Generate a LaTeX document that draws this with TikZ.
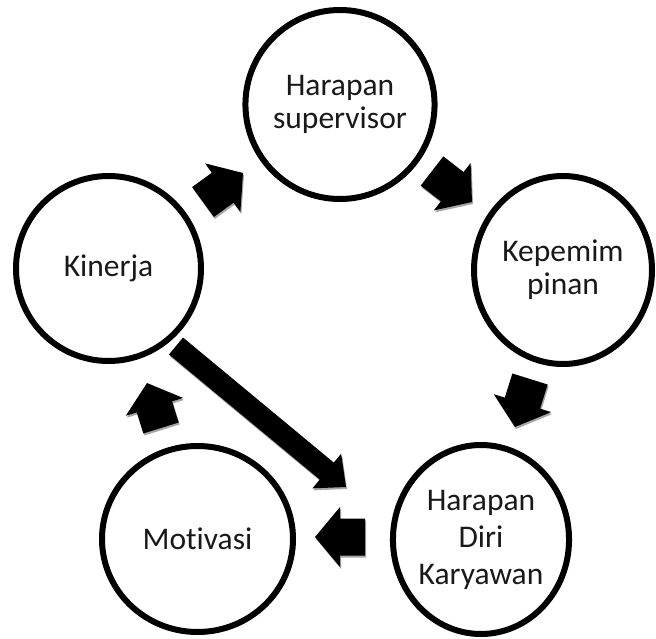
\documentclass[tikz,border=0pt]{standalone}
\usepackage{fontspec}
\setmainfont{Carlito}[Ligatures={NoCommon}]
\usetikzlibrary{calc,shapes.geometric,shadows}
\newcommand{\blockarr}[6]{% #1 from, #2 to, #3 half body, #4 half head, #5 head length, #6 colour
  \coordinate (bhtmp) at ($(#2)!#5!(#1)$);
  \fill[#6] ($(#1)!#3!90:(#2)$) -- ($(bhtmp)!#3!-90:(#1)$) -- ($(bhtmp)!#4!-90:(#1)$) -- (#2)
    -- ($(bhtmp)!#4!90:(#1)$) -- ($(bhtmp)!#3!90:(#1)$) -- ($(#1)!#3!-90:(#2)$) -- cycle;
}
\newcommand{\shadedarr}[5]{%
  \begin{scope}[transform canvas={shift={(1pt,-2pt)}}]
    \blockarr{#1}{#2}{#3}{#4}{#5}{black!35}
  \end{scope}
  \blockarr{#1}{#2}{#3}{#4}{#5}{black}
}
\begin{document}
\begin{tikzpicture}[x=1pt,y=-1pt,
  bubble/.style={ellipse, draw=black, line width=6pt, fill=white, align=center, inner sep=0pt,
    text=black!90, font=\fontsize{31.5}{33}\selectfont,
    drop shadow={shadow xshift=1.5pt, shadow yshift=-2pt, opacity=0.3}}]
\useasboundingbox (0,0) rectangle (656,639);
\fill[white] (0,0) rectangle (656,639);

% arrow end points
\coordinate (a1s) at (203,202); \coordinate (a1e) at (243,173);
\coordinate (a2s) at (432,171); \coordinate (a2e) at (472,202);
\coordinate (a3s) at (530,379); \coordinate (a3e) at (515,427);
\coordinate (a4s) at (365,537); \coordinate (a4e) at (315,537);
\coordinate (a5s) at (161,428); \coordinate (a5e) at (147,383);
\coordinate (a6s) at (176,346); \coordinate (a6e) at (346,487);

\shadedarr{a1s}{a1e}{18.5pt}{30pt}{25pt}
\shadedarr{a2s}{a2e}{18.5pt}{30pt}{25pt}
\shadedarr{a3s}{a3e}{18.5pt}{30pt}{25pt}
\shadedarr{a4s}{a4e}{18.5pt}{30pt}{25pt}
\shadedarr{a5s}{a5e}{18.5pt}{30pt}{25pt}
\shadedarr{a6s}{a6e}{11pt}{22.5pt}{25pt}

\node[bubble, minimum width=184pt, minimum height=189pt] (sup) at (340,104.5) {Harapan\\supervisor};
\node[bubble, minimum width=185pt, minimum height=185pt] (kin) at (108.5,268.5) {Kinerja};
\node[bubble, minimum width=178pt, minimum height=188pt] (kep) at (563,270) {Kepemim\\pinan};
\node[bubble, minimum width=176pt, minimum height=189pt, font=\fontsize{31.5}{37}\selectfont] (diri) at (481,539.5) {Harapan\\Diri\\Karyawan};
\node[bubble, minimum width=191pt, minimum height=186pt] (mot) at (197.5,539) {Motivasi};
\end{tikzpicture}
\end{document}
